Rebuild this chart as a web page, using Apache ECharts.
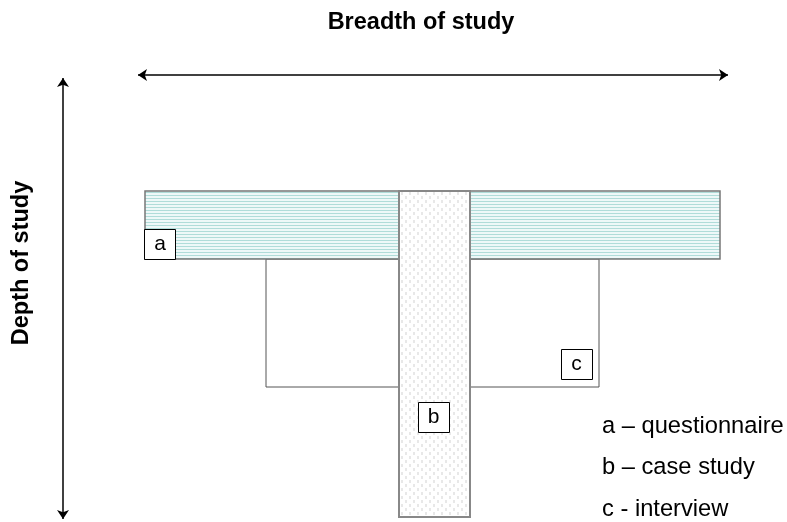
<!DOCTYPE html>
<html>
<head>
<meta charset="utf-8">
<script src="https://cdn.jsdelivr.net/npm/echarts@6/dist/echarts.min.js"></script>
<style>
  html, body { margin: 0; padding: 0; background: #fff; }
  #main { width: 787px; height: 522px; }
</style>
</head>
<body>
<div id="main"></div>
<script>
// methods shown in the diagram
const methods = ['a', 'b', 'c'];
const legendLabels = ['a \u2013 questionnaire', 'b \u2013 case study', 'c - interview'];

// extent of each method on the breadth (x) and depth (y) scales
const breadthFrom = [145, 399, 266];
const breadthTo = [720, 470, 599];
const depthFrom = [191, 191, 259];
const depthTo = [259, 517, 387];

// where the little letter boxes sit
const labelBreadth = [160, 433.5, 576.5];
const labelDepth = [244, 417, 364];

// legend rows
const legendBreadth = [602, 602, 602];
const legendDepth = [426, 467, 509];

// the two arrows
const breadthArrow = [[138, 75], [728, 75]];
const depthArrow = [[63, 78], [63, 519]];

var FONT = '"Liberation Sans", Arial, sans-serif';

// fill patterns
function stripes() {
  var c = document.createElement('canvas');
  c.width = 4; c.height = 3;
  var ctx = c.getContext('2d');
  ctx.fillStyle = '#eef8f8';
  ctx.fillRect(0, 0, 4, 3);
  ctx.fillStyle = '#b0dcd9';
  ctx.fillRect(0, 0, 4, 1);
  return { image: c, repeat: 'repeat' };
}
function dots() {
  var c = document.createElement('canvas');
  c.width = 8; c.height = 8;
  var ctx = c.getContext('2d');
  ctx.fillStyle = '#ffffff';
  ctx.fillRect(0, 0, 8, 8);
  ctx.fillStyle = '#e8e8e8';
  ctx.fillRect(1, 0, 2, 3);
  ctx.fillRect(5, 4, 2, 3);
  return { image: c, repeat: 'repeat' };
}

function rectSeries(idx, fill, stroke, lw, z) {
  return {
    type: 'custom',
    z: z,
    data: [[breadthFrom[idx], breadthTo[idx], depthFrom[idx], depthTo[idx]]],
    renderItem: function (params, api) {
      var p0 = api.coord([api.value(0), api.value(2)]);
      var p1 = api.coord([api.value(1), api.value(3)]);
      return {
        type: 'rect',
        shape: { x: p0[0], y: p0[1], width: p1[0] - p0[0], height: p1[1] - p0[1] },
        style: { fill: fill, stroke: stroke, lineWidth: lw }
      };
    }
  };
}

var myChart = echarts.init(document.getElementById('main'));
var option = {
  animation: false,
  backgroundColor: '#fff',
  grid: { left: 0, right: 0, top: 0, bottom: 0 },
  xAxis: { type: 'value', min: 0, max: 787, show: false },
  yAxis: { type: 'value', min: 0, max: 522, inverse: true, show: false },
  graphic: [{
    type: 'text',
    x: 421, y: 23,
    style: {
      text: 'Breadth of study',
      fontFamily: FONT, fontSize: 23.5, fontWeight: 'bold', fill: '#000',
      align: 'center', verticalAlign: 'middle'
    }
  }, {
    type: 'text',
    x: 22, y: 263,
    rotation: Math.PI / 2,
    style: {
      text: 'Depth of study',
      fontFamily: FONT, fontSize: 23.5, fontWeight: 'bold', fill: '#000',
      align: 'center', verticalAlign: 'middle'
    }
  }],
  series: [
    rectSeries(2, '#fff', '#555', 1, 1),          // c - interview
    rectSeries(0, stripes(), '#777', 1.5, 2),     // a - questionnaire
    rectSeries(1, dots(), '#888', 2, 3),          // b - case study
    {
      type: 'custom',
      z: 4,
      data: labelBreadth.map(function (x, i) { return [x, labelDepth[i]]; }),
      renderItem: function (params, api) {
        var p = api.coord([api.value(0), api.value(1)]);
        return {
          type: 'group',
          children: [
            { type: 'rect', shape: { x: Math.round(p[0] - 16) + 0.5, y: Math.round(p[1] - 15) + 0.5, width: 31, height: 30 },
              style: { fill: '#fff', stroke: '#000', lineWidth: 1 } },
            { type: 'text', x: p[0], y: p[1],
              style: { text: methods[params.dataIndex], fontFamily: FONT, fontSize: 21, fill: '#000',
                       align: 'center', verticalAlign: 'middle' } }
          ]
        };
      }
    },
    {
      type: 'custom',
      z: 4,
      data: legendBreadth.map(function (x, i) { return [x, legendDepth[i]]; }),
      renderItem: function (params, api) {
        var p = api.coord([api.value(0), api.value(1)]);
        return {
          type: 'text', x: p[0], y: p[1],
          style: { text: legendLabels[params.dataIndex], fontFamily: FONT, fontSize: 23.7, fill: '#000',
                   align: 'left', verticalAlign: 'middle' }
        };
      }
    },
    {
      type: 'lines',
      coordinateSystem: 'cartesian2d',
      z: 5,
      symbol: ['arrow', 'arrow'],
      symbolSize: 9,
      lineStyle: { color: '#000', width: 1.5, opacity: 1, curveness: 0 },
      data: [{ coords: breadthArrow }, { coords: depthArrow }]
    }
  ]
};
myChart.setOption(option);
</script>
</body>
</html>
